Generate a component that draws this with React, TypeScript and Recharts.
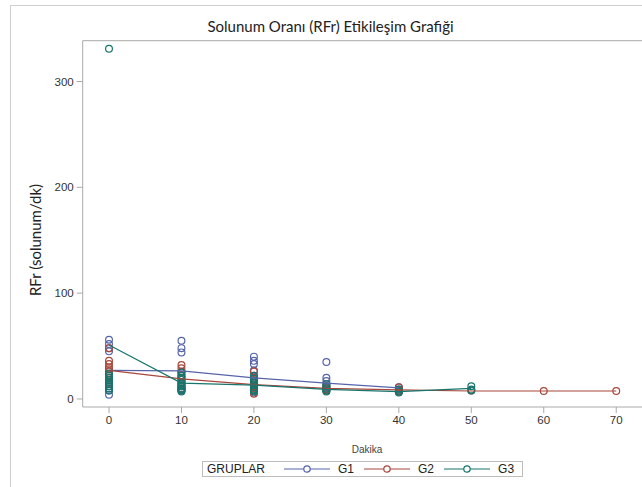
import React from 'react';
import { ScatterChart, Scatter, XAxis, YAxis, ReferenceLine } from 'recharts';

// minutes on the x axis
const MINUTES = [0, 10, 20, 30, 40, 50, 60, 70];

// individual observations per minute (same order as MINUTES)
const G1_POINTS = [
  [56, 52, 48, 45, 20, 16, 12, 10, 8, 4],
  [55, 48, 44, 25, 20, 15, 12, 10, 8],
  [40, 36, 33, 27, 20, 15, 12, 10, 8, 6],
  [35, 20, 17, 14, 11, 9],
  [11, 9, 7],
];
const G2_POINTS = [
  [48, 36, 33, 30, 28, 26, 23, 20, 18, 15],
  [32, 29, 26, 22, 18, 15, 12, 10, 9],
  [26, 22, 18, 15, 12, 10, 8, 5],
  [12, 10, 9, 8],
  [11, 8, 7],
  [8],
  [7.5],
  [7.5],
];
const G3_POINTS = [
  [331, 24, 22, 20, 18, 16, 14, 12, 10, 8],
  [25, 22, 20, 18, 16, 14, 12, 10, 9, 8, 7],
  [22, 19, 17, 15, 13, 11, 9, 8, 7],
  [14, 12, 10, 8, 7],
  [9, 7, 6],
  [12, 9, 8],
];

// mean line per group
const G1_MEANS = [27, 26.5, 20, 15, 10.5];
const G2_MEANS = [27, 19, 13.5, 10, 8.5, 7.5, 7.5, 7.5];
const G3_MEANS = [51, 15, 13, 9, 7, 10];

const Y_TICKS = [0, 100, 200, 300];
const X_TICKS = MINUTES;

const GROUPS = [
  { name: 'G1', color: '#5664aa', points: G1_POINTS, means: G1_MEANS },
  { name: 'G2', color: '#a8473b', points: G2_POINTS, means: G2_MEANS },
  { name: 'G3', color: '#17756d', points: G3_POINTS, means: G3_MEANS },
];

const AXIS = '#a9a9a9';
const Y_MIN = -7.6;
const Y_MAX = 338.6;

const toPoints = (pts: number[][]) =>
  pts.flatMap((vals, i) => vals.map(v => ({ x: MINUTES[i], y: v })));
const toLine = (means: number[]) => means.map((v, i) => ({ x: MINUTES[i], y: v }));

const ring = (color: string) => (props: any) => (
  <circle cx={props.cx} cy={props.cy} r={3.4} fill="none" stroke={color} strokeWidth={1.2} />
);
const noDot = () => <g />;

const tickStyle = { fontSize: 11.5, fill: '#333', stroke: 'none', fontFamily: 'Liberation Sans, Arial, sans-serif' };

const LegendItem = ({ name, color, first }: { name: string; color: string; first: boolean }) => (
  <span style={{ display: 'inline-flex', alignItems: 'center', marginLeft: first ? 19 : 10 }}>
    <svg width={46} height={10}>
      <line x1={0} y1={5} x2={46} y2={5} stroke={color} strokeWidth={1.2} />
      <circle cx={23} cy={5} r={3.2} fill="#fff" stroke={color} strokeWidth={1.2} />
    </svg>
    <span style={{ marginLeft: 8 }}>{name}</span>
  </span>
);

export default function App() {
  return (
    <div style={{ position: 'fixed', left: 0, top: 0, width: 642, height: 487, overflow: 'hidden', background: '#fff' }}>
      <div style={{ position: 'absolute', left: 10, top: 5, right: 0, bottom: 0, borderLeft: '1px solid #cfcfcf', borderTop: '1px solid #cfcfcf' }} />
      <div style={{ position: 'absolute', left: 10, width: 641, top: 17, textAlign: 'center', fontFamily: 'Lato, sans-serif', fontSize: 15, color: '#222' }}>
        Solunum Oranı (RFr) Etikileşim Grafiği
      </div>
      <div style={{ position: 'absolute', left: 35, top: 240, transform: 'translate(-50%, -50%) rotate(-90deg)', whiteSpace: 'nowrap', fontFamily: 'Lato, sans-serif', fontSize: 15, color: '#222' }}>
        RFr (solunum/dk)
      </div>
      <div style={{ position: 'absolute', left: 367, top: 449, transform: 'translate(-50%, -50%)', fontFamily: 'Liberation Sans, Arial, sans-serif', fontSize: 10, color: '#444' }}>
        Dakika
      </div>
      <div style={{ position: 'absolute', left: 202, top: 461, width: 321, height: 16, border: '1px solid #bdbdbd', boxSizing: 'border-box', display: 'flex', alignItems: 'center', fontFamily: 'Liberation Sans, Arial, sans-serif', fontSize: 12, color: '#222', paddingLeft: 4 }}>
        <span>GRUPLAR</span>
        {GROUPS.map((g, i) => <LegendItem key={g.name} name={g.name} color={g.color} first={i === 0} />)}
      </div>
      <div style={{ position: 'absolute', left: 0, top: 0 }}>
        <ScatterChart width={680} height={487} margin={{ top: 40.7, right: 29, bottom: 50, left: 22.7 }}>
          <XAxis
            type="number"
            dataKey="x"
            domain={[-3.63, 74.8]}
            ticks={X_TICKS}
            allowDataOverflow
            tickSize={6}
            tickMargin={3}
            height={30}
            axisLine={{ stroke: AXIS }}
            tickLine={{ stroke: AXIS }}
            tick={tickStyle}
          />
          <YAxis
            type="number"
            dataKey="y"
            domain={[Y_MIN, Y_MAX]}
            ticks={Y_TICKS}
            allowDataOverflow
            tickSize={6}
            tickMargin={3}
            width={60}
            axisLine={{ stroke: AXIS }}
            tickLine={{ stroke: AXIS }}
            tick={tickStyle}
          />
          <ReferenceLine y={Y_MAX} stroke={AXIS} ifOverflow="visible" />
          {GROUPS.map(g => (
            <Scatter
              key={`pts-${g.name}`}
              name={g.name}
              data={toPoints(g.points)}
              shape={ring(g.color)}
              isAnimationActive={false}
            />
          ))}
          {GROUPS.map(g => (
            <Scatter
              key={`mean-${g.name}`}
              data={toLine(g.means)}
              line={{ stroke: g.color, strokeWidth: 1.2 }}
              lineType="joint"
              shape={noDot}
              isAnimationActive={false}
            />
          ))}
        </ScatterChart>
      </div>
    </div>
  );
}
